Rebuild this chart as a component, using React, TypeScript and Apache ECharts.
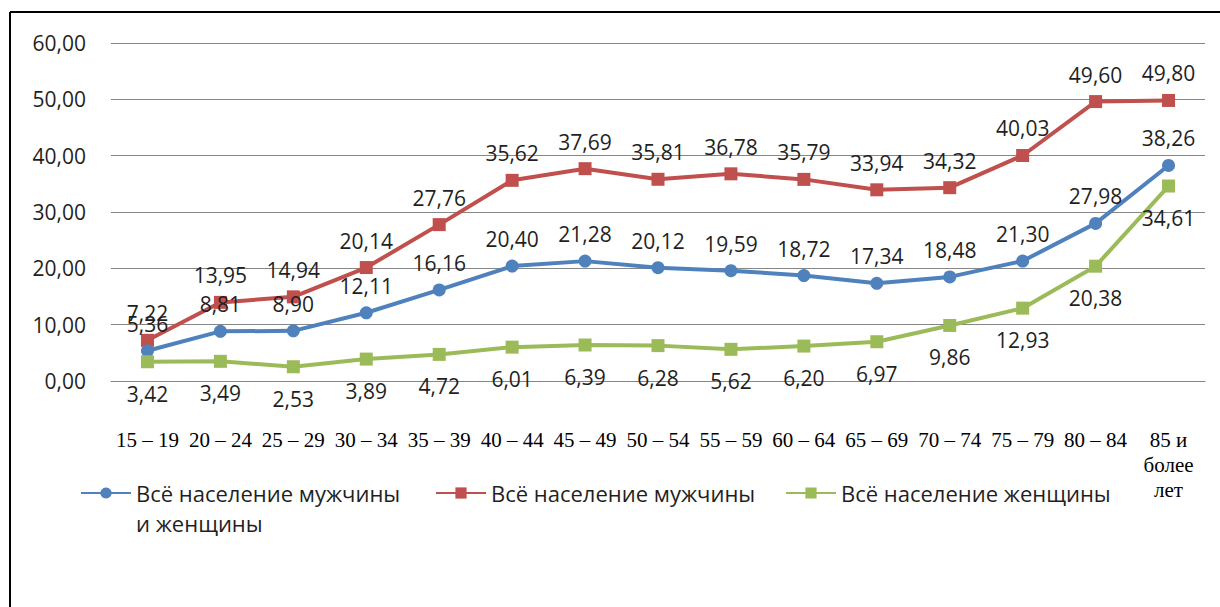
import React, { useEffect, useRef } from "react";
import * as echarts from "echarts";

const categories = [
  "15 – 19", "20 – 24", "25 – 29", "30 – 34", "35 – 39", "40 – 44", "45 – 49",
  "50 – 54", "55 – 59", "60 – 64", "65 – 69", "70 – 74", "75 – 79", "80 – 84",
  "85 и\nболее\nлет",
];
const allValues = [5.36, 8.81, 8.9, 12.11, 16.16, 20.4, 21.28, 20.12, 19.59, 18.72, 17.34, 18.48, 21.3, 27.98, 38.26];
const menValues = [7.22, 13.95, 14.94, 20.14, 27.76, 35.62, 37.69, 35.81, 36.78, 35.79, 33.94, 34.32, 40.03, 49.6, 49.8];
const womenValues = [3.42, 3.49, 2.53, 3.89, 4.72, 6.01, 6.39, 6.28, 5.62, 6.2, 6.97, 9.86, 12.93, 20.38, 34.61];
const seriesNames = ["Всё население мужчины и женщины", "Всё население мужчины", "Всё население женщины"];

const fmt = (v: number) => v.toFixed(2).replace(".", ",");
const TEXT = "#1f1f1f";
const SANS = "'Open Sans', sans-serif";

export default function App() {
  const ref = useRef<HTMLDivElement>(null);
  useEffect(() => {
    if (!ref.current) return;
    const chart = echarts.init(ref.current, null, { renderer: "svg" });
    const label = (pos: string, dist: number) => ({
      show: true,
      position: pos,
      distance: dist,
      color: TEXT,
      fontFamily: SANS,
      fontSize: 21,
      formatter: (p: any) => fmt(p.value),
    });
    const legendBase = {
      orient: "horizontal",
      itemWidth: 50,
      itemHeight: 14,
      itemGap: 0,
      padding: 0,
      textStyle: { color: TEXT, fontFamily: SANS, fontSize: 22, lineHeight: 30 },
    };
    chart.setOption({
      animation: false,
      backgroundColor: "#ffffff",
      grid: { left: 111, right: 15, top: 43, bottom: 226 },
      xAxis: {
        type: "category",
        data: categories,
        boundaryGap: true,
        axisLine: { show: true, lineStyle: { color: "#868686", width: 1 } },
        axisTick: { show: false },
        axisLabel: {
          interval: 0,
          margin: 46,
          color: "#000",
          fontFamily: "'Liberation Serif', serif",
          fontSize: 21,
          lineHeight: 25,
        },
      },
      yAxis: {
        type: "value",
        min: 0,
        max: 60,
        interval: 10,
        axisLine: { show: false },
        axisTick: { show: false },
        splitLine: { lineStyle: { color: "#868686", width: 1 } },
        axisLabel: {
          margin: 25,
          color: TEXT,
          fontFamily: SANS,
          fontSize: 21,
          formatter: (v: number) => fmt(v),
        },
      },
      legend: [
        {
          ...legendBase,
          left: 80,
          top: 448,
          data: [seriesNames[0]],
          formatter: () => "\nВсё население мужчины\nи женщины",
        },
        { ...legendBase, left: 435, top: 478, data: [seriesNames[1]] },
        { ...legendBase, left: 785, top: 478, data: [seriesNames[2]] },
      ],
      graphic: [
        { type: "line", shape: { x1: 10, y1: 12, x2: 1220, y2: 12 }, style: { stroke: "#000", lineWidth: 2 } },
        { type: "line", shape: { x1: 10, y1: 12, x2: 10, y2: 607 }, style: { stroke: "#000", lineWidth: 2 } },
      ],
      series: [
        {
          name: seriesNames[0],
          type: "line",
          data: allValues,
          symbol: "circle",
          symbolSize: 13,
          itemStyle: { color: "#4F81BD" },
          lineStyle: { color: "#4F81BD", width: 4 },
          label: label("top", 10),
          z: 3,
        },
        {
          name: seriesNames[1],
          type: "line",
          data: menValues,
          symbol: "rect",
          symbolSize: 13,
          itemStyle: { color: "#C0504D" },
          lineStyle: { color: "#C0504D", width: 4 },
          label: label("top", 10),
          z: 2,
        },
        {
          name: seriesNames[2],
          type: "line",
          data: womenValues,
          symbol: "rect",
          symbolSize: 13,
          itemStyle: { color: "#9BBB59" },
          lineStyle: { color: "#9BBB59", width: 4 },
          label: label("bottom", 15),
          z: 4,
        },
      ],
    });
    return () => chart.dispose();
  }, []);
  return (
    <div
      ref={ref}
      style={{ position: "fixed", left: 0, top: 0, width: 1220, height: 607, background: "#fff" }}
    />
  );
}
